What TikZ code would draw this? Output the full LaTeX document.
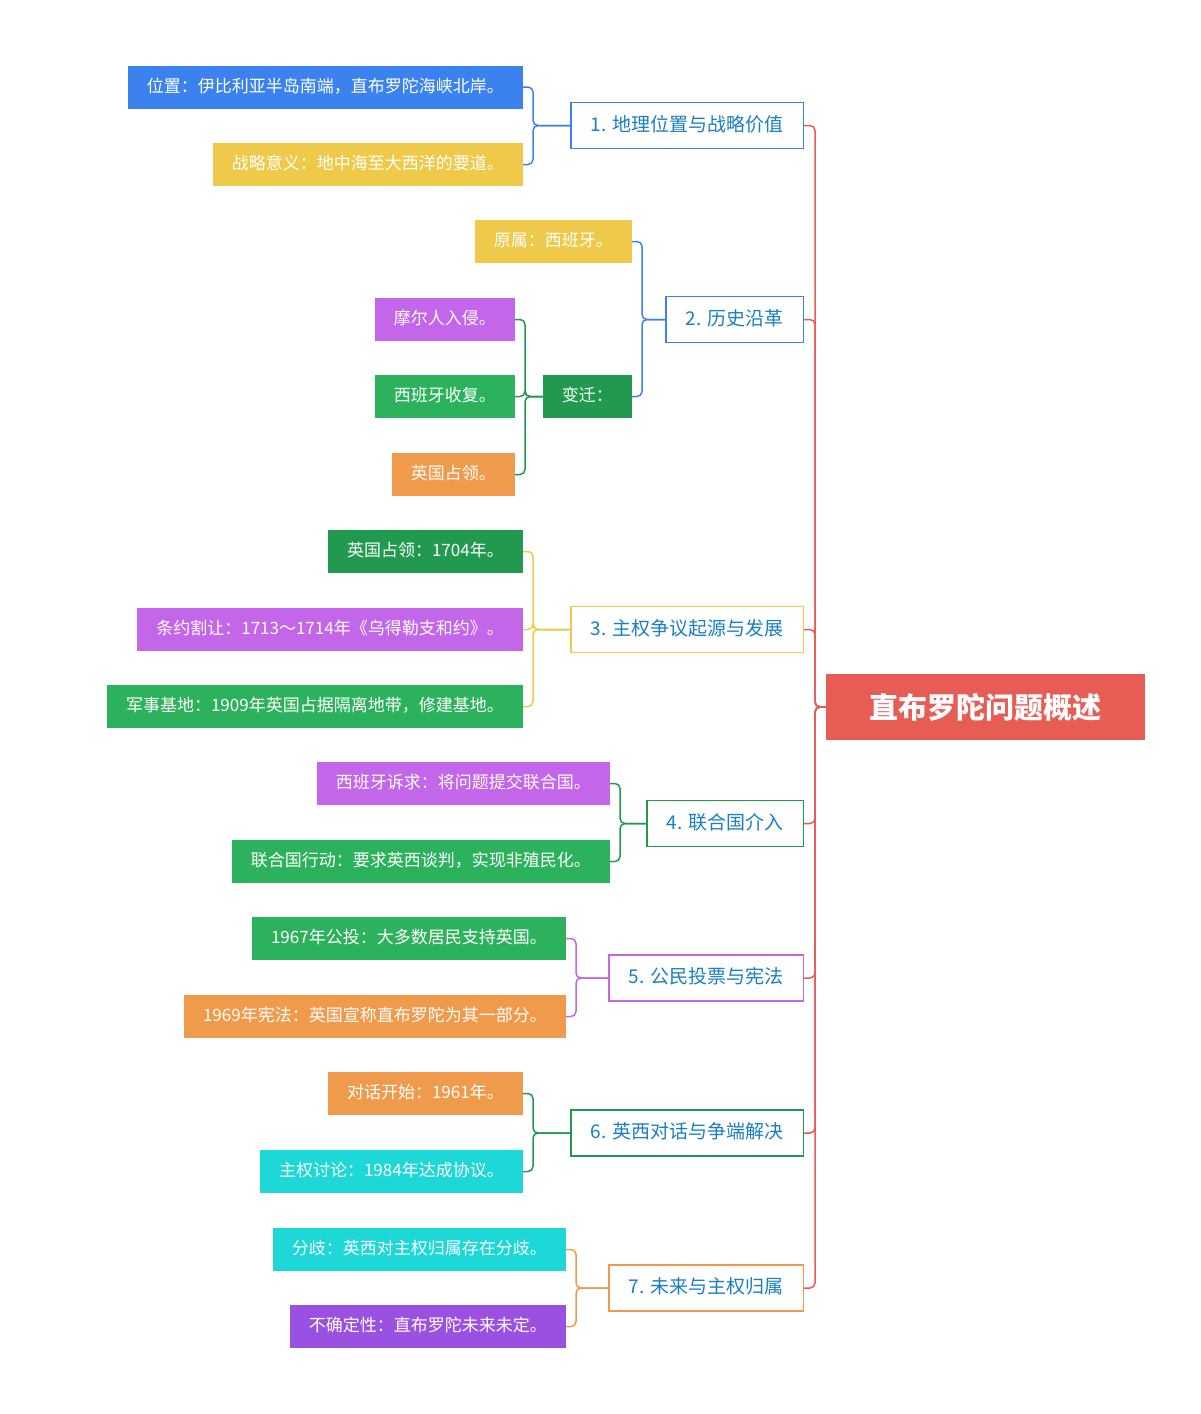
\documentclass[tikz,border=0pt]{standalone}
\usepackage{fontspec}
\setmainfont{Noto Sans CJK SC}
\begin{document}
\begin{tikzpicture}[x=1pt,y=-1pt,
  leaf/.style={anchor=east,minimum height=43pt,inner xsep=19pt,text=white,font=\fontsize{17}{20}\selectfont,text height=13pt,text depth=3pt},
  topic/.style={anchor=east,minimum height=46pt,inner xsep=20pt,fill=white,draw,line width=1.5pt,text=tblue,font=\fontsize{19}{22}\selectfont,text height=15pt,text depth=4pt},
  conn/.style={line width=1.5pt,rounded corners=5pt}]
\definecolor{rootred}{HTML}{E85C56}
\definecolor{tblue}{HTML}{1A7FC2}
\definecolor{cblue}{HTML}{3B82EE}
\definecolor{cyel}{HTML}{EEC94A}
\definecolor{cdgreen}{HTML}{21994F}
\definecolor{cgreen}{HTML}{2CB25C}
\definecolor{cpurp}{HTML}{C466EA}
\definecolor{cvio}{HTML}{9A50E0}
\definecolor{corange}{HTML}{F09B4C}
\definecolor{ccyan}{HTML}{1ED8D8}
\useasboundingbox (0,0) rectangle (1200,1414);
\node[fill=rootred,text=white,minimum width=319pt,minimum height=66pt,font=\fontsize{29}{34}\selectfont\bfseries] (root) at (985.5,707) {直布罗陀问题概述};
% topics
\node[topic,draw=cblue] (t1) at (804,125.5) {1. 地理位置与战略价值};
\node[topic,draw=cblue] (t2) at (804,319.5) {2. 历史沿革};
\node[topic,draw=cyel] (t3) at (804,629.5) {3. 主权争议起源与发展};
\node[topic,draw=cdgreen] (t4) at (804,823.5) {4. 联合国介入};
\node[topic,draw=cpurp] (t5) at (804,978) {5. 公民投票与宪法};
\node[topic,draw=cdgreen] (t6) at (804,1133) {6. 英西对话与争端解决};
\node[topic,draw=corange] (t7) at (804,1288) {7. 未来与主权归属};
\foreach \t in {t1,t2,t3,t4,t5,t6,t7}
  \draw[conn,rootred] (root.west) -- (815,707) |- (\t.east);
% leaves
\node[leaf,fill=cblue] (a1) at (523,87) {位置：伊比利亚半岛南端，直布罗陀海峡北岸。};
\node[leaf,fill=cyel] (a2) at (523,164.5) {战略意义：地中海至大西洋的要道。};
\foreach \c in {a1,a2} \draw[conn,cblue] (t1.west) -- (533,125.5) |- (\c.east);
\node[leaf,fill=cyel] (b1) at (632,241.5) {原属：西班牙。};
\node[leaf,fill=cdgreen] (b2) at (632,396.5) {变迁：};
\foreach \c in {b1,b2} \draw[conn,cblue] (t2.west) -- (642,319.5) |- (\c.east);
\node[leaf,fill=cpurp] (b21) at (515,319.5) {摩尔人入侵。};
\node[leaf,fill=cgreen] (b22) at (515,396.5) {西班牙收复。};
\node[leaf,fill=corange] (b23) at (515,474.5) {英国占领。};
\foreach \c in {b21,b22,b23} \draw[conn,cdgreen] (b2.west) -- (525,396.5) |- (\c.east);
\node[leaf,fill=cdgreen] (c1) at (523,551.5) {英国占领：1704年。};
\node[leaf,fill=cpurp] (c2) at (523,629.5) {条约割让：1713～1714年《乌得勒支和约》。};
\node[leaf,fill=cgreen] (c3) at (523,706.5) {军事基地：1909年英国占据隔离地带，修建基地。};
\foreach \c in {c1,c2,c3} \draw[conn,cyel] (t3.west) -- (533,629.5) |- (\c.east);
\node[leaf,fill=cpurp] (d1) at (610,783.5) {西班牙诉求：将问题提交联合国。};
\node[leaf,fill=cgreen] (d2) at (610,861.5) {联合国行动：要求英西谈判，实现非殖民化。};
\foreach \c in {d1,d2} \draw[conn,cdgreen] (t4.west) -- (620,823.5) |- (\c.east);
\node[leaf,fill=cgreen] (e1) at (566,938.5) {1967年公投：大多数居民支持英国。};
\node[leaf,fill=corange] (e2) at (566,1016.5) {1969年宪法：英国宣称直布罗陀为其一部分。};
\foreach \c in {e1,e2} \draw[conn,cpurp] (t5.west) -- (576,978) |- (\c.east);
\node[leaf,fill=corange] (f1) at (523,1093.5) {对话开始：1961年。};
\node[leaf,fill=ccyan] (f2) at (523,1171.5) {主权讨论：1984年达成协议。};
\foreach \c in {f1,f2} \draw[conn,cdgreen] (t6.west) -- (533,1133) |- (\c.east);
\node[leaf,fill=ccyan] (g1) at (566,1249.5) {分歧：英西对主权归属存在分歧。};
\node[leaf,fill=cvio] (g2) at (566,1326.5) {不确定性：直布罗陀未来未定。};
\foreach \c in {g1,g2} \draw[conn,corange] (t7.west) -- (576,1288) |- (\c.east);
\end{tikzpicture}
\end{document}
